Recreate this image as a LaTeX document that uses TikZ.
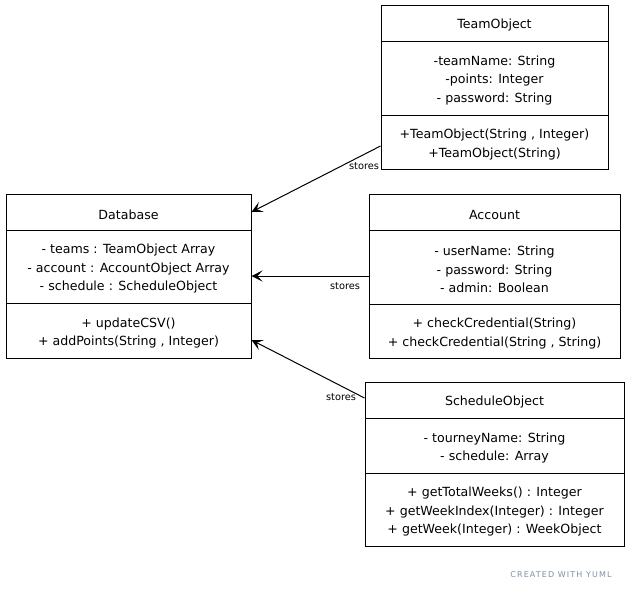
\documentclass[tikz,border=0pt]{standalone}
\usepackage{fontspec}
\setmainfont{DejaVu Sans}
\usetikzlibrary{arrows.meta,calc}
\definecolor{yumlgrey}{HTML}{7F8FA8}
\begin{document}
\begin{tikzpicture}[x=1pt,y=-1pt,
  comp/.style={draw, line width=1pt, inner sep=0pt},
  txt/.style={align=center, inner sep=0pt, yshift=-2.5pt,
    font=\fontsize{12.6}{18.5}\selectfont},
  conn/.style={line width=1pt, -{Stealth[length=11pt,width=11pt,inset=5pt]}},
  lbl/.style={font=\fontsize{9.8}{11}\selectfont, inner sep=0pt}]
\useasboundingbox (0,0) rectangle (630,590);
% TeamObject
\node[comp, minimum width=227pt, minimum height=36pt, label={[txt]center:TeamObject}] (t1) at (494.5,23) {};
\node[comp, minimum width=227pt, minimum height=74pt, label={[txt]center:{-teamName: String\\-points: Integer\\- password: String}}] (t2) at (494.5,78) {};
\node[comp, minimum width=227pt, minimum height=54pt, label={[txt]center:{+TeamObject(String , Integer)\\+TeamObject(String)}}] (t3) at (494.5,142) {};
% Database
\node[comp, minimum width=245pt, minimum height=36pt, label={[txt]center:Database}] (d1) at (128.5,212) {};
\node[comp, minimum width=245pt, minimum height=73pt, label={[txt]center:{- teams : TeamObject Array\\- account : AccountObject Array\\- schedule : ScheduleObject}}] (d2) at (128.5,266.5) {};
\node[comp, minimum width=245pt, minimum height=55pt, label={[txt]center:{+ updateCSV()\\+ addPoints(String , Integer)}}] (d3) at (128.5,330.5) {};
% Account
\node[comp, minimum width=251pt, minimum height=36pt, label={[txt]center:Account}] (a1) at (494.5,212) {};
\node[comp, minimum width=251pt, minimum height=74pt, label={[txt]center:{- userName: String\\- password: String\\- admin: Boolean}}] (a2) at (494.5,267) {};
\node[comp, minimum width=251pt, minimum height=54pt, label={[txt]center:{+ checkCredential(String)\\+ checkCredential(String , String)}}] (a3) at (494.5,331) {};
% ScheduleObject
\node[comp, minimum width=259pt, minimum height=36pt, label={[txt]center:ScheduleObject}] (s1) at (494.5,400) {};
\node[comp, minimum width=259pt, minimum height=55pt, label={[txt]center:{- tourneyName: String\\- schedule: Array}}] (s2) at (494.5,445.5) {};
\node[comp, minimum width=259pt, minimum height=73pt, label={[txt]center:{+ getTotalWeeks() : Integer\\+ getWeekIndex(Integer) : Integer\\+ getWeek(Integer) : WeekObject}}] (s3) at (494.5,509.5) {};
% connector ends
\coordinate (tS) at ($(t3.west)+(0,4)$);
\coordinate (aS) at ($(a2.west)+(0,9)$);
\coordinate (sS) at ($(s1.west)+(0,-2)$);
\coordinate (dT) at (d1.east);
\coordinate (dA) at ($(d2.east)+(0,9.5)$);
\coordinate (dS) at ($(d3.east)+(0,9.5)$);
\draw[conn] (tS) -- (dT);
\draw[conn] (aS) -- (dA);
\draw[conn] (sS) -- (dS);
\node[lbl] (l1) at (364,166) {stores};
\node[lbl] (l2) at (345,286) {stores};
\node[lbl] (l3) at (341,397) {stores};
\node[font=\fontsize{8}{9}\selectfont\addfontfeature{LetterSpace=14}, text=yumlgrey, inner sep=0pt] (yuml) at (561,575) {CREATED\ WITH\ YUML};
\end{tikzpicture}
\end{document}
